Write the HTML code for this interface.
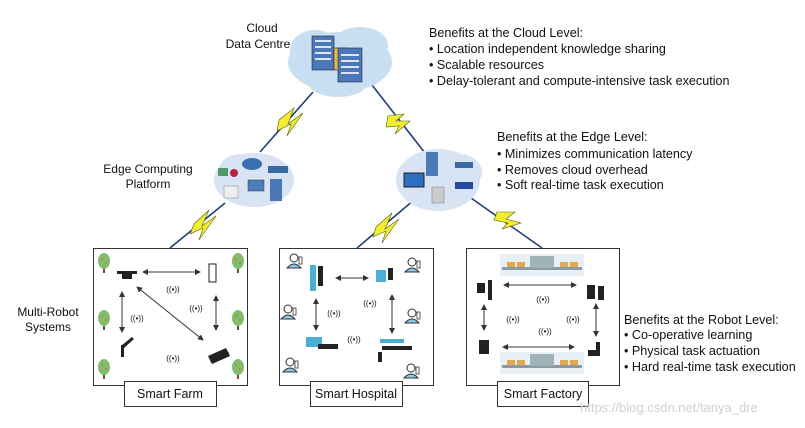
<!DOCTYPE html>
<html><head><style>
body{margin:0;background:#fff;}
svg text{font-family:"Liberation Sans",sans-serif;fill:#111;}
</style></head><body>
<svg width="805" height="423" viewBox="0 0 805 423" xmlns="http://www.w3.org/2000/svg">
<defs>
<g id="tree"><rect x="-1" y="4" width="2" height="8" fill="#7a4a2a"/><ellipse cx="0" cy="0" rx="6" ry="8" fill="#7fbf6a"/><circle cx="-2" cy="-2" r="1" fill="#d66"/><circle cx="2" cy="2" r="1" fill="#d66"/></g>
<g id="wifi"><text x="0" y="0" font-size="8" text-anchor="middle">((•))</text></g>
<g id="doc"><circle cx="0" cy="-4" r="4" fill="#fff" stroke="#333"/><path d="M-7 6 Q0 -2 7 6 Z" fill="#8cc8e8" stroke="#333"/><rect x="5" y="-5" width="3" height="7" fill="#fff" stroke="#333" stroke-width=".8"/></g>
<g id="conv"><rect x="-42" y="0" width="84" height="22" fill="#e9f0f5"/><rect x="-40" y="13" width="80" height="3" fill="#8a9aa6"/><rect x="-12" y="2" width="24" height="12" fill="#9fb4b8"/><rect x="-35" y="8" width="8" height="5" fill="#e8a84a"/><rect x="-25" y="8" width="8" height="5" fill="#e8a84a"/><rect x="18" y="8" width="8" height="5" fill="#e8a84a"/><rect x="28" y="8" width="8" height="5" fill="#e8a84a"/></g>
<marker id="ah" markerWidth="6" markerHeight="6" refX="5" refY="3" orient="auto-start-reverse"><path d="M0 0 L6 3 L0 6 Z" fill="#333"/></marker>
</defs>
<g stroke="#1f3f7a" stroke-width="1.6" fill="none">
<line x1="313" y1="92" x2="260" y2="152"/>
<line x1="372" y1="85" x2="425" y2="153"/>
<line x1="225" y1="203" x2="170" y2="248"/>
<line x1="414" y1="200" x2="357" y2="248"/>
<line x1="471" y1="198" x2="542" y2="248"/>
</g>
<g fill="#f2ee2a" stroke="#5a5a20" stroke-width=".6">
<path d="M279 120 L294 108 L288 124 L303 113 L287 136 L291 124 L277 131 Z"/>
<path d="M388 116 L404 114 L396 121 L410 121 L395 134 L399 126 L386 127 Z"/>
<path d="M194 224 L209 210 L202 226 L216 216 L199 240 L203 228 L190 234 Z"/>
<path d="M376 227 L392 213 L385 229 L399 219 L382 243 L386 231 L373 237 Z"/>
<path d="M497 212 L515 212 L506 219 L521 223 L502 229 L508 223 L494 220 Z"/>
</g>
<g fill="#c7dff0">
<ellipse cx="340" cy="62" rx="52" ry="30"/><ellipse cx="315" cy="50" rx="25" ry="20"/><ellipse cx="360" cy="45" rx="28" ry="18"/><ellipse cx="338" cy="82" rx="30" ry="15"/>
</g>
<g fill="#d8e4f4">
<ellipse cx="254" cy="180" rx="40" ry="27"/><ellipse cx="240" cy="168" rx="20" ry="14"/>
<ellipse cx="438" cy="180" rx="42" ry="31"/><ellipse cx="460" cy="172" rx="22" ry="18"/>
</g>
<g stroke="#224" stroke-width=".6">
<rect x="312" y="36" width="22" height="34" fill="#4a78b8"/><rect x="334" y="48" width="12" height="22" fill="#f0b640"/><rect x="338" y="48" width="24" height="34" fill="#4a78b8"/>
</g>
<g fill="#dbe6f3"><rect x="315" y="40" width="16" height="2"/><rect x="315" y="46" width="16" height="2"/><rect x="315" y="52" width="16" height="2"/><rect x="315" y="58" width="16" height="2"/><rect x="341" y="54" width="18" height="2"/><rect x="341" y="60" width="18" height="2"/><rect x="341" y="66" width="18" height="2"/><rect x="341" y="72" width="18" height="2"/></g>
<rect x="218" y="168" width="10" height="8" fill="#4a9a6a"/><circle cx="234" cy="173" r="4" fill="#c02040"/>
<ellipse cx="252" cy="164" rx="10" ry="6" fill="#3a70b0"/><rect x="268" y="166" width="20" height="7" fill="#3a6aa0"/>
<rect x="248" y="180" width="16" height="11" fill="#4a80c0" stroke="#333" stroke-width=".5"/><rect x="270" y="179" width="12" height="22" fill="#4a78b8"/>
<rect x="224" y="186" width="14" height="12" fill="#eee" stroke="#999" stroke-width=".6"/>
<rect x="426" y="152" width="12" height="24" fill="#4a78b8"/><rect x="455" y="162" width="18" height="6" fill="#3a6aa0"/>
<rect x="404" y="173" width="20" height="14" fill="#2a70c0" stroke="#222"/><rect x="455" y="182" width="18" height="7" fill="#2a4aa0"/>
<rect x="432" y="187" width="12" height="16" fill="#ccc" stroke="#888" stroke-width=".6"/>
<text x="262" y="32" font-size="12" text-anchor="middle">Cloud</text>
<text x="258" y="48" font-size="12" text-anchor="middle">Data Centre</text>
<text x="148" y="173" font-size="12" text-anchor="middle">Edge Computing</text>
<text x="148" y="188" font-size="12" text-anchor="middle">Platform</text>
<text x="48" y="316" font-size="12" text-anchor="middle">Multi-Robot</text>
<text x="48" y="331" font-size="12" text-anchor="middle">Systems</text>
<g font-size="12.6">
<text x="429" y="37">Benefits at the Cloud Level:</text>
<text x="429" y="53">•  Location independent knowledge sharing</text>
<text x="429" y="69">•  Scalable resources</text>
<text x="429" y="85">•  Delay-tolerant and compute-intensive task execution</text>
<text x="497" y="141">Benefits at the Edge Level:</text>
<text x="497" y="158">•  Minimizes communication latency</text>
<text x="497" y="174">•  Removes cloud overhead</text>
<text x="497" y="189">•  Soft real-time task execution</text>
<text x="624" y="324">Benefits at the Robot Level:</text>
<text x="624" y="339">•  Co-operative learning</text>
<text x="624" y="355">•  Physical task actuation</text>
<text x="624" y="371">•  Hard real-time task execution</text>
</g>
<g fill="none" stroke="#333" stroke-width="1">
<rect x="93.5" y="248.5" width="154" height="137"/>
<rect x="279.5" y="248.5" width="154" height="137"/>
<rect x="466.5" y="248.5" width="153" height="137"/>
</g>
<g fill="#fff" stroke="#333">
<rect x="124.5" y="381.5" width="92" height="25"/>
<rect x="310.5" y="381.5" width="92" height="25"/>
<rect x="497.5" y="381.5" width="91" height="25"/>
</g>
<g font-size="12.5" text-anchor="middle">
<text x="170" y="398">Smart Farm</text>
<text x="356" y="398">Smart Hospital</text>
<text x="543" y="398">Smart Factory</text>
</g>
<use href="#tree" x="104" y="261"/><use href="#tree" x="104" y="318"/><use href="#tree" x="104" y="367"/>
<use href="#tree" x="238" y="261"/><use href="#tree" x="238" y="318"/><use href="#tree" x="238" y="367"/>
<g fill="#222"><rect x="117" y="271" width="20" height="3"/><rect x="122" y="274" width="10" height="5"/><rect x="209" y="264" width="7" height="18" fill="#fff" stroke="#222"/><path d="M208 356 L226 348 L230 356 L212 364 Z"/><circle cx="213" cy="360" r="3"/><circle cx="226" cy="354" r="3"/><rect x="121" y="345" width="3" height="12"/><path d="M121 346 L132 337 L134 339 L124 348 Z"/></g>
<g stroke="#333" stroke-width="1" marker-start="url(#ah)" marker-end="url(#ah)">
<line x1="143" y1="272" x2="200" y2="272"/><line x1="122" y1="292" x2="122" y2="332"/><line x1="216" y1="296" x2="216" y2="330"/><line x1="137" y1="287" x2="203" y2="340"/>
<line x1="336" y1="278" x2="368" y2="278"/><line x1="316" y1="299" x2="316" y2="330"/><line x1="392" y1="295" x2="392" y2="333"/>
<line x1="504" y1="285" x2="576" y2="285"/><line x1="484" y1="305" x2="484" y2="330"/><line x1="596" y1="304" x2="596" y2="336"/><line x1="503" y1="347" x2="574" y2="347"/>
</g>
<use href="#wifi" x="173" y="292"/><use href="#wifi" x="137" y="321"/><use href="#wifi" x="196" y="311"/><use href="#wifi" x="173" y="361"/>
<use href="#doc" x="294" y="262"/><use href="#doc" x="288" y="313"/><use href="#doc" x="290" y="366"/><use href="#doc" x="412" y="266"/><use href="#doc" x="412" y="317"/><use href="#doc" x="411" y="372"/>
<g fill="#4ab0d8"><rect x="310" y="265" width="6" height="26"/><rect x="376" y="270" width="10" height="12"/><rect x="306" y="337" width="16" height="10"/><rect x="380" y="339" width="24" height="4"/></g>
<g fill="#222"><rect x="318" y="266" width="5" height="20"/><rect x="388" y="268" width="5" height="12"/><rect x="318" y="344" width="20" height="5"/><rect x="382" y="346" width="30" height="4"/><rect x="378" y="352" width="4" height="10"/></g>
<use href="#wifi" x="334" y="316"/><use href="#wifi" x="370" y="306"/><use href="#wifi" x="354" y="342"/>
<use href="#conv" x="542" y="254"/><use href="#conv" x="542" y="352"/>
<g fill="#222"><rect x="477" y="283" width="8" height="10"/><rect x="488" y="280" width="4" height="20"/><rect x="587" y="285" width="8" height="14"/><rect x="598" y="286" width="6" height="14"/><rect x="479" y="340" width="10" height="14"/><rect x="596" y="342" width="4" height="14"/><rect x="588" y="350" width="8" height="6"/></g>
<use href="#wifi" x="543" y="302"/><use href="#wifi" x="513" y="322"/><use href="#wifi" x="573" y="322"/><use href="#wifi" x="545" y="334"/>
<text x="580" y="412" font-size="13" style="fill:#d0d0d0">https://blog.csdn.net/tanya_dre</text>
</svg>
</body></html>
